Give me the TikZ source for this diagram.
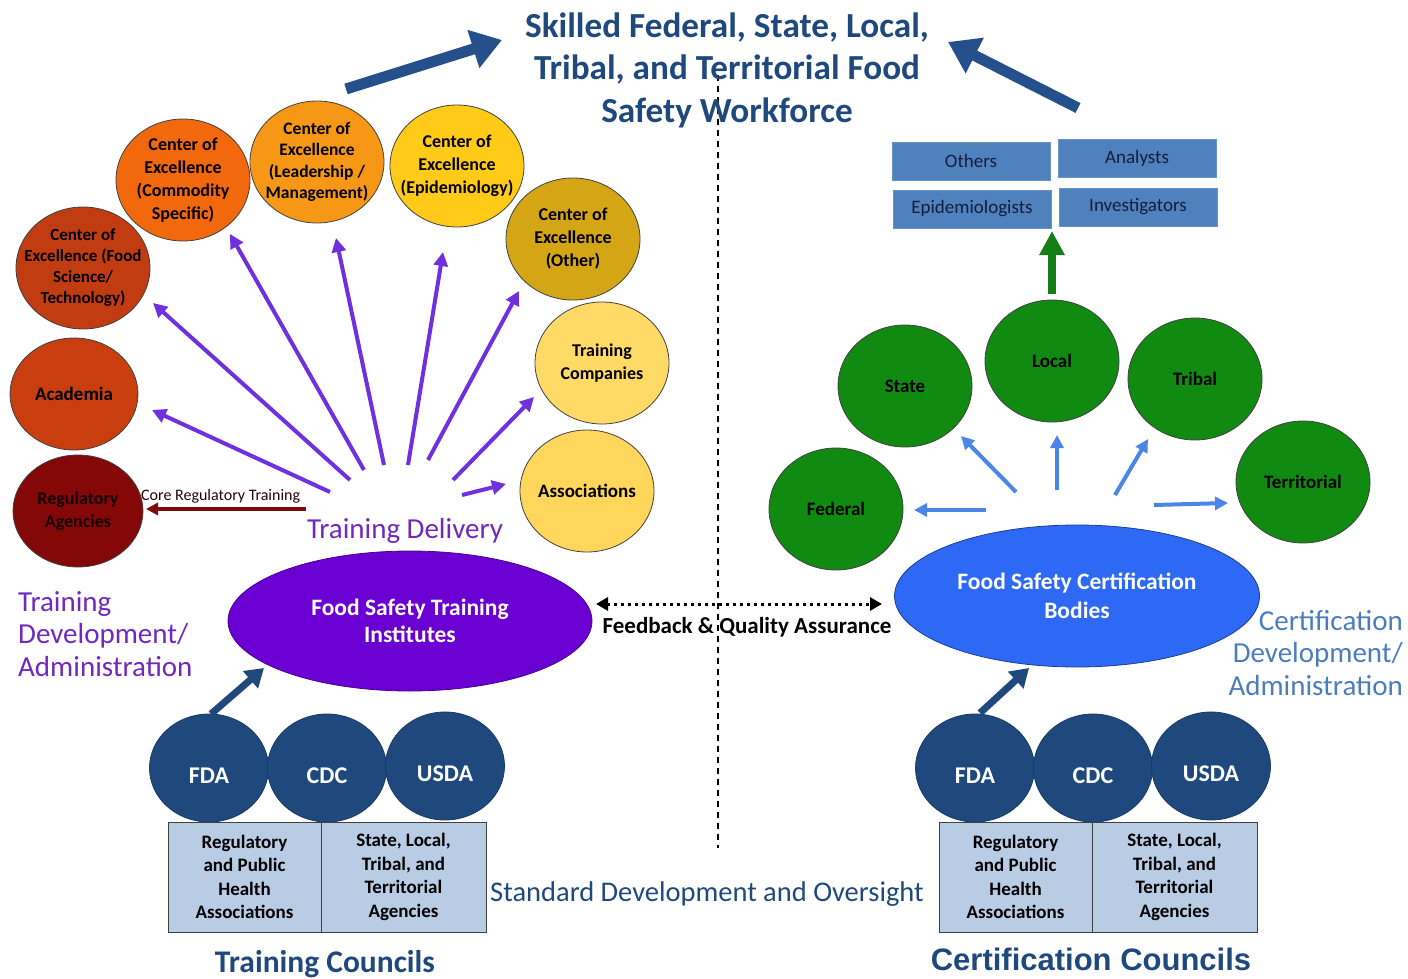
\documentclass[tikz,border=0pt]{standalone}
\usepackage{fontspec}
\setmainfont{Carlito}
\usetikzlibrary{shapes.geometric,arrows.meta}
\definecolor{navy}{RGB}{31,73,125}
\definecolor{bigblue}{RGB}{37,80,140}
\definecolor{purp}{RGB}{112,48,224}
\definecolor{purptext}{RGB}{112,40,190}
\definecolor{instpurp}{RGB}{106,0,210}
\definecolor{certblue}{RGB}{45,105,245}
\definecolor{certtext}{RGB}{75,125,190}
\definecolor{ltblue}{RGB}{74,134,232}
\definecolor{boxblue}{RGB}{79,129,189}
\definecolor{boxtext}{RGB}{20,30,60}
\definecolor{councilbox}{RGB}{184,204,228}
\definecolor{gr}{RGB}{16,138,16}
\definecolor{grarrow}{RGB}{20,125,20}
\definecolor{cFood}{RGB}{194,60,18}
\definecolor{cComm}{RGB}{242,104,12}
\definecolor{cLead}{RGB}{246,152,22}
\definecolor{cEpi}{RGB}{255,202,24}
\definecolor{cOther}{RGB}{212,166,22}
\definecolor{cTrain}{RGB}{255,218,102}
\definecolor{cAssoc}{RGB}{255,214,92}
\definecolor{cAcad}{RGB}{200,62,14}
\definecolor{cReg}{RGB}{132,8,8}
\definecolor{regarrow}{RGB}{128,10,10}
\begin{document}
\begin{tikzpicture}[x=1pt,y=-1pt,
  blob/.style={ellipse, draw=black!75, line width=0.8pt, inner sep=-22pt,
    minimum width=134pt, minimum height=122pt, align=center,
    font=\fontsize{18}{23}\selectfont\bfseries},
  greenblob/.style={blob, fill=gr, font=\fontsize{19}{23}\selectfont\bfseries},
  navyblob/.style={ellipse, fill=navy, draw=navy!80!black, line width=0.8pt, inner sep=0pt,
    minimum width=119pt, minimum height=108pt, text=white,
    text height=31pt, text depth=0pt,
    font=\fontsize{24}{26}\selectfont\bfseries},
  rolebox/.style={rectangle, fill=boxblue, draw=boxblue!85!white, inner sep=0pt,
    minimum width=158pt, minimum height=38pt, text=boxtext,
    font=\fontsize{19}{21}\selectfont},
  halfbox/.style={rectangle, fill=councilbox, draw=black!75, line width=0.9pt, inner sep=0pt,
    minimum width=153pt, minimum height=110pt, align=center,
    font=\fontsize{19}{23.5}\selectfont\bfseries},
  purparrow/.style={draw=purp, line width=4pt, -{Triangle[length=14pt,width=14pt]}},
  bluearrow/.style={draw=ltblue, line width=4pt, -{Triangle[length=13pt,width=13pt]}},
  bigarrow/.style={draw=bigblue, line width=11pt, -{Triangle[length=30pt,width=38pt]}},
  navyarrow/.style={draw=navy, line width=7pt, -{Triangle[length=18pt,width=22pt]}},
  heading/.style={font=\fontsize{29}{32.5}\selectfont}
]
\useasboundingbox (0,0) rectangle (1408,979);

% divider
\coordinate (dtop) at (718,75);
\coordinate (dbot) at (718,848);
\draw[black, line width=1.5pt, dash pattern=on 6pt off 5pt] (dtop) -- (dbot);

% title
\node[text=navy, align=center, font=\fontsize{35.2}{42.5}\selectfont\bfseries] (title) at (727,70)
  {Skilled Federal, State, Local,\\Tribal, and Territorial Food\\Safety Workforce};

% big arrows to title
\coordinate (bl1) at (346,89);
\coordinate (bl2) at (502,40);
\draw[bigarrow] (bl1) -- (bl2);
\coordinate (br1) at (1078,108);
\coordinate (br2) at (948,42);
\draw[bigarrow] (br1) -- (br2);

% ---- left training side ----
\node[blob, fill=cFood, font=\fontsize{17}{21}\selectfont\bfseries] (food) at (83,268)
  {Center of\\Excellence (Food\\Science/\\Technology)};
\node[blob, fill=cComm] (comm) at (183,180)
  {Center of\\Excellence\\(Commodity\\Specific)};
\node[blob, fill=cLead, font=\fontsize{17.5}{21.5}\selectfont\bfseries] (lead) at (317,162)
  {Center of\\Excellence\\(Leadership /\\Management)};
\node[blob, fill=cEpi] (epi) at (457,166)
  {Center of\\Excellence\\(Epidemiology)};
\node[blob, fill=cOther] (other) at (573,239)
  {Center of\\Excellence\\(Other)};
\node[blob, fill=cTrain] (trainco) at (602,363)
  {Training\\Companies};
\node[blob, fill=cAssoc, font=\fontsize{19}{23}\selectfont\bfseries] (assoc) at (587,491)
  {Associations};
\node[blob, fill=cAcad, minimum width=128pt, minimum height=112pt, font=\fontsize{19}{23}\selectfont\bfseries] (acad) at (74,394)
  {Academia};
\node[blob, fill=cReg, minimum width=130pt, minimum height=112pt, text=black!85!cReg] (reg) at (78,511)
  {Regulatory\\Agencies};

% purple arrows
\coordinate (sAcad) at (330,492);   \coordinate (eAcad) at (152,410);
\coordinate (sFood) at (350,480);   \coordinate (eFood) at (153,303);
\coordinate (sComm) at (364,470);   \coordinate (eComm) at (230,234);
\coordinate (sLead) at (384,465);   \coordinate (eLead) at (336,238);
\coordinate (sEpi) at (408,465);    \coordinate (eEpi) at (443,252);
\coordinate (sOther) at (428,460);  \coordinate (eOther) at (519,291);
\coordinate (sTrain) at (453,480);  \coordinate (eTrain) at (534,397);
\coordinate (sAssoc) at (462,495);  \coordinate (eAssoc) at (506,484);
\draw[purparrow] (sAcad) -- (eAcad);
\draw[purparrow] (sFood) -- (eFood);
\draw[purparrow] (sComm) -- (eComm);
\draw[purparrow] (sLead) -- (eLead);
\draw[purparrow] (sEpi) -- (eEpi);
\draw[purparrow] (sOther) -- (eOther);
\draw[purparrow] (sTrain) -- (eTrain);
\draw[purparrow] (sAssoc) -- (eAssoc);

% core regulatory training
\coordinate (sReg) at (306,509);
\coordinate (eReg) at (146,509);
\draw[draw=regarrow, line width=3.5pt, -{Triangle[length=12pt,width=12pt]}] (sReg) -- (eReg);
\node[text=black!70!regarrow, font=\fontsize{16}{18}\selectfont, anchor=south west, inner sep=1pt] (corelbl) at (140,504)
  {Core Regulatory Training};

\node[text=purptext, heading] (tdeliv) at (405,531) {Training Delivery};

% institutes
\node[ellipse, fill=instpurp, draw=instpurp!70!black, line width=0.8pt, inner sep=0pt,
  minimum width=364pt, minimum height=140pt, text=white, align=center,
  font=\fontsize{23.5}{27}\selectfont\bfseries] (inst) at (410,621)
  {Food Safety Training\\Institutes};

\node[text=purptext, heading, align=left, anchor=north west, inner sep=0pt] (tdev) at (18,591)
  {Training\\Development/\\Administration};

% feedback
\coordinate (fbL) at (596,604);
\coordinate (fbR) at (882,604);
\draw[black, line width=3pt, dash pattern=on 3pt off 4pt,
  {Triangle[length=12pt,width=13pt]}-{Triangle[length=12pt,width=13pt]}] (fbL) -- (fbR);
\node[font=\fontsize{23}{26}\selectfont\bfseries] (fblbl) at (747,627) {Feedback \& Quality Assurance};

% ---- right certification side ----
\node[ellipse, fill=certblue, draw=certblue!60!black, line width=0.8pt, inner sep=0pt,
  minimum width=365pt, minimum height=142pt, text=white, align=center,
  font=\fontsize{23.5}{29}\selectfont\bfseries] (cert) at (1077,596)
  {Food Safety Certification\\Bodies};

\node[text=certtext, heading, align=right, anchor=north east, inner sep=0pt] (cdev) at (1403,610)
  {Certification\\Development/\\Administration};

\node[greenblob] (federal) at (836,509) {Federal};
\node[greenblob] (state) at (905,386) {State};
\node[greenblob] (local) at (1052,361) {Local};
\node[greenblob] (tribal) at (1195,379) {Tribal};
\node[greenblob] (territorial) at (1303,482) {Territorial};

\coordinate (sFed) at (986,510);   \coordinate (eFed) at (914,510);
\coordinate (sSta) at (1016,492);  \coordinate (eSta) at (961,436);
\coordinate (sLoc) at (1057,490);  \coordinate (eLoc) at (1057,435);
\coordinate (sTri) at (1115,495);  \coordinate (eTri) at (1148,439);
\coordinate (sTer) at (1154,505);  \coordinate (eTer) at (1228,503);
\draw[bluearrow] (sFed) -- (eFed);
\draw[bluearrow] (sSta) -- (eSta);
\draw[bluearrow] (sLoc) -- (eLoc);
\draw[bluearrow] (sTri) -- (eTri);
\draw[bluearrow] (sTer) -- (eTer);

% green arrow to roles
\coordinate (gS) at (1052,294);
\coordinate (gE) at (1052,231);
\draw[draw=grarrow, line width=8pt, -{Triangle[length=24pt,width=24pt]}] (gS) -- (gE);

\node[rolebox] (others) at (971,161) {Others};
\node[rolebox] (analysts) at (1137,158) {Analysts};
\node[rolebox] (epis) at (972,209) {Epidemiologists};
\node[rolebox] (invest) at (1138,207) {Investigators};

% ---- bottom councils ----
\node[navyblob] (fdaL) at (209,768) {FDA};
\node[navyblob] (cdcL) at (327,768) {CDC};
\node[navyblob] (usdaL) at (445,766) {USDA};
\node[halfbox] (regL) at (244.5,877) {Regulatory\\and Public\\Health\\Associations};
\node[halfbox, minimum width=165pt] (sltL) at (403.5,877) {State, Local,\\Tribal, and\\Territorial\\Agencies};
\coordinate (naL1) at (211,714);
\coordinate (naL2) at (264,668);
\draw[navyarrow] (naL1) -- (naL2);
\node[text=navy, font=\fontsize{31.5}{34}\selectfont\bfseries] (tcouncil) at (325,964) {Training Councils};

\node[navyblob] (fdaR) at (975,768) {FDA};
\node[navyblob] (cdcR) at (1093,768) {CDC};
\node[navyblob] (usdaR) at (1211,766) {USDA};
\node[halfbox] (regR) at (1015.5,877) {Regulatory\\and Public\\Health\\Associations};
\node[halfbox, minimum width=165pt] (sltR) at (1174.5,877) {State, Local,\\Tribal, and\\Territorial\\Agencies};
\coordinate (naR1) at (980,713);
\coordinate (naR2) at (1029,668);
\draw[navyarrow] (naR1) -- (naR2);
\node[text=navy, font=\fontsize{31}{34}\selectfont\fontspec{Liberation Sans}\bfseries] (ccouncil) at (1091,959) {Certification Councils};

\node[text=navy, font=\fontsize{28.5}{32}\selectfont] (stdlbl) at (707,894) {Standard Development and Oversight};
\end{tikzpicture}
\end{document}
